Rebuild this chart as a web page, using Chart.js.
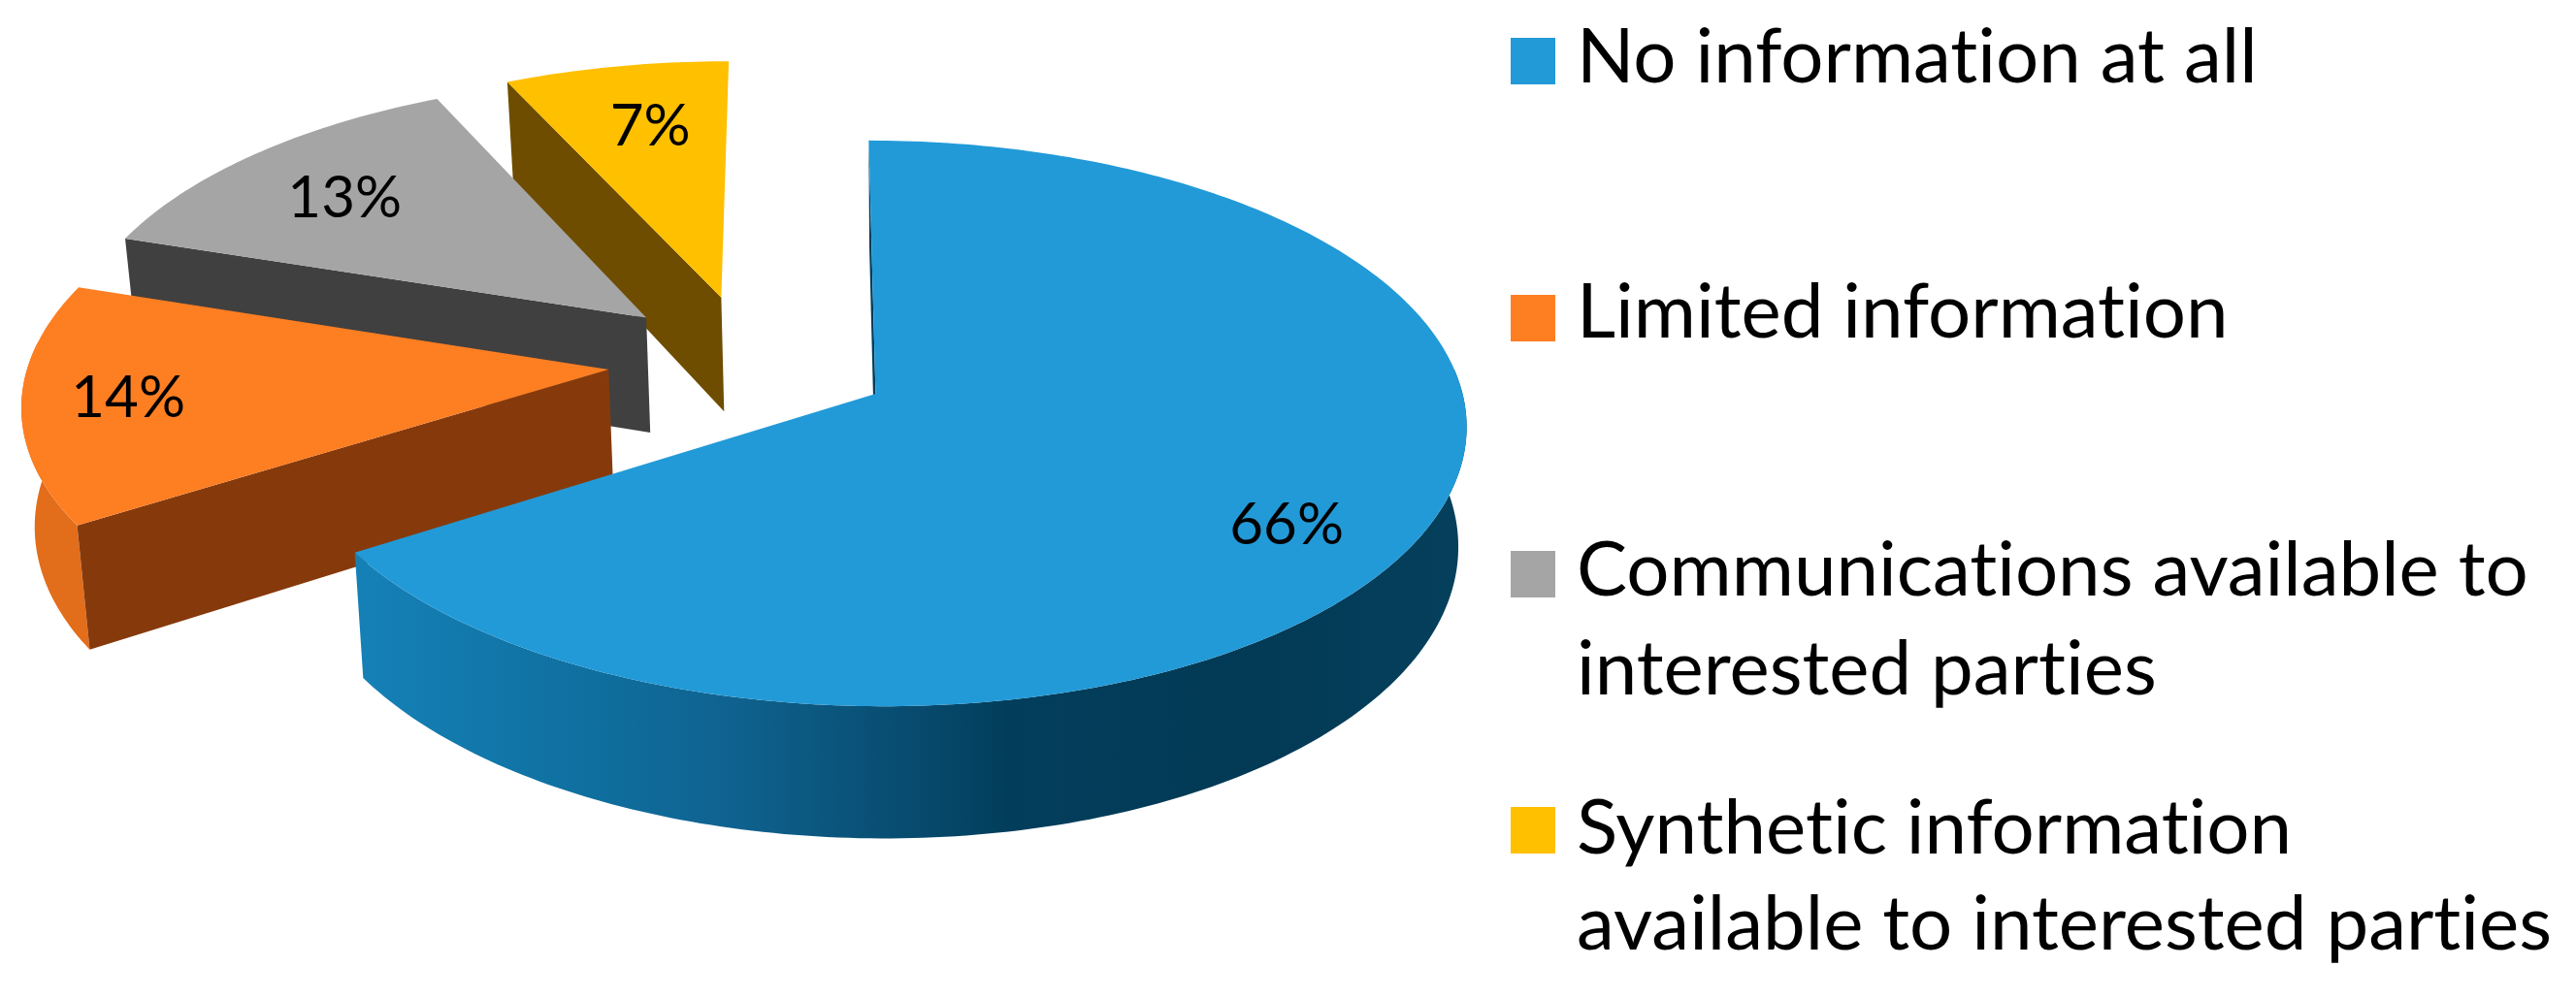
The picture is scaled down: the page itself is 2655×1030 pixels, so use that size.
<!DOCTYPE html>
<html>
<head>
<meta charset="utf-8">
<title>Information pie</title>
<script src="https://cdn.jsdelivr.net/npm/chart.js@4"></script>
<style>
  html, body { margin: 0; background: #fff; }
  canvas { display: block; }
</style>
</head>
<body>
<canvas id="pieChart" width="2655" height="1030"></canvas>
<script>
const categories = ['No information at all', 'Limited information', 'Communications available to interested parties', 'Synthetic information available to interested parties'];
const shares = [66, 14, 13, 7];
const percentLabels = ['66%', '14%', '13%', '7%'];
const legendLines = [['No information at all'], ['Limited information'], ['Communications available to', 'interested parties'], ['Synthetic information', 'available to interested parties']];

const topColors = ['#229ad8', '#fe7e22', '#a5a5a5', '#ffc000'];
const sideColors = ['#023d5a', '#863a0c', '#404040', '#6e4d00'];
const rimColors = ['#0f6492', '#e26d1b', '#6b6b6b', '#a07c00'];

// label placement inside each slice, as a fraction of the radius
const labelRadius = [0.8, 0.82, 0.74, 0.72];
const labelTurn = [5.4, 0, -1.5, 1];
const legendBoxY = [39, 304, 568, 832];
const legendBaselines = [[85], [348], [614, 716], [880, 979]];

const explode = 0.245;
const depth = 122;

// perspective of the pie plane, unit circle -> screen
function project(u, v) {
  const x = u - 0.214;
  const y = v - 0.118;
  const w = 1 - 0.1046 * y;
  return { x: (605 * x - 86.6 * y + 902) / w, y: (246 * y + 406) / w, w: w };
}

function dropped(p) {
  return { x: 940 + (p.x - 940) * 0.985, y: p.y + depth / p.w };
}

function rimPoints(cx, cy, a0, a1) {
  const pts = [];
  const steps = Math.ceil((a1 - a0) * 60);
  for (let i = 0; i <= steps; i++) {
    const a = a0 + (a1 - a0) * i / steps;
    pts.push(project(cx + Math.cos(a), cy + Math.sin(a)));
  }
  return pts;
}

// same rim, but only the part that faces the viewer
function frontRim(cx, cy, a0, a1) {
  const pts = [];
  const steps = Math.ceil((a1 - a0) * 60);
  for (let i = 0; i <= steps; i++) {
    const a = a0 + (a1 - a0) * i / steps;
    if (Math.sin(a) > -0.1) pts.push(project(cx + Math.cos(a), cy + Math.sin(a)));
  }
  return pts;
}

function fillPoly(ctx, pts, fill) {
  ctx.beginPath();
  pts.forEach((p, i) => i ? ctx.lineTo(p.x, p.y) : ctx.moveTo(p.x, p.y));
  ctx.closePath();
  ctx.fillStyle = fill;
  ctx.fill();
}

const pie3d = {
  id: 'pie3d',
  beforeDatasetDraw(chart, args) {
    const ctx = chart.ctx;
    const arcs = chart.getDatasetMeta(args.index).data;

    // back slices first
    for (let i = arcs.length - 1; i >= 0; i--) {
      const a0 = arcs[i].startAngle;
      const a1 = arcs[i].endAngle;
      const mid = (a0 + a1) / 2;
      const cx = Math.cos(mid) * explode;
      const cy = Math.sin(mid) * explode;
      const apex = project(cx, cy);
      const rim = rimPoints(cx, cy, a0, a1);
      const front = frontRim(cx, cy, a0, a1);
      const first = rim[0];

      if (front.length > 1) {
        let rimFill = rimColors[i];
        if (i === 0) {
          rimFill = ctx.createLinearGradient(382, 0, 1514, 0);
          rimFill.addColorStop(0, '#1580b6');
          rimFill.addColorStop(0.2, '#0f6f9f');
          rimFill.addColorStop(0.33, '#0f628f');
          rimFill.addColorStop(0.5, '#074a6d');
          rimFill.addColorStop(0.58, '#023e5c');
          rimFill.addColorStop(0.8, '#033a55');
          rimFill.addColorStop(1, '#05405c');
        }
        fillPoly(ctx, front.concat(front.map(dropped).reverse()), rimFill);
      }
      fillPoly(ctx, [apex, first, dropped(first), dropped(apex)], sideColors[i]);
      fillPoly(ctx, [apex].concat(rim), topColors[i]);
    }

    // percent labels
    ctx.font = '60px Lato';
    ctx.letterSpacing = '0.01px';
    ctx.fillStyle = '#000';
    ctx.textAlign = 'center';
    ctx.textBaseline = 'middle';
    arcs.forEach((arc, i) => {
      const mid = (arc.startAngle + arc.endAngle) / 2;
      const a = mid + labelTurn[i] * Math.PI / 180;
      const p = project(Math.cos(mid) * explode + Math.cos(a) * labelRadius[i],
                        Math.sin(mid) * explode + Math.sin(a) * labelRadius[i]);
      ctx.fillText(percentLabels[i], p.x, p.y);
    });

    return false;
  },
  afterDraw(chart) {
    const ctx = chart.ctx;
    ctx.font = '78px Lato';
    ctx.letterSpacing = '0.01px'; // stops the "ti" ligature
    ctx.fillStyle = '#000';
    ctx.textAlign = 'left';
    ctx.textBaseline = 'alphabetic';
    legendLines.forEach((lines, i) => {
      ctx.fillStyle = topColors[i];
      ctx.fillRect(1557, legendBoxY[i], 46, 48);
      ctx.fillStyle = '#000';
      lines.forEach((line, j) => ctx.fillText(line, 1625, legendBaselines[i][j]));
    });
  }
};

new Chart(document.getElementById('pieChart'), {
  type: 'pie',
  data: {
    labels: categories,
    datasets: [{ data: shares, backgroundColor: topColors, borderWidth: 0 }]
  },
  options: {
    responsive: false,
    animation: false,
    plugins: {
      legend: { display: false },
      tooltip: { enabled: false }
    }
  },
  plugins: [pie3d]
});
</script>
</body>
</html>
